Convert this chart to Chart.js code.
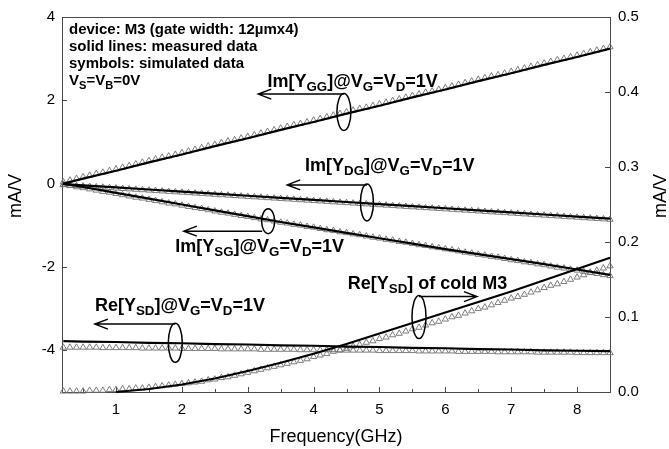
<!DOCTYPE html>
<html>
<head>
<meta charset="utf-8">
<script src="https://cdn.jsdelivr.net/npm/chart.js@4.4.1/dist/chart.umd.min.js"></script>
<style>
html, body { margin: 0; padding: 0; background: #fff; }
</style>
</head>
<body>
<canvas id="chart" width="669" height="449"></canvas>
<script>
// measured data (solid lines), GHz / mA/V
var freqMeas = [0.2, 0.5, 1.0, 1.5, 2.0, 2.5, 3.0, 3.5, 4.0, 4.5, 5.0, 5.5, 6.0, 6.5, 7.0, 7.5, 8.0, 8.5];
var ggMeas = [0.00, 0.12, 0.31, 0.51, 0.70, 0.90, 1.09, 1.29, 1.48, 1.68, 1.87, 2.07, 2.26, 2.46, 2.65, 2.85, 3.04, 3.24];
var dgMeas = [-0.01, -0.04, -0.09, -0.14, -0.19, -0.24, -0.29, -0.34, -0.39, -0.44, -0.49, -0.54, -0.59, -0.64, -0.69, -0.74, -0.79, -0.84];
var sgMeas = [0.00, -0.08, -0.22, -0.36, -0.50, -0.64, -0.78, -0.92, -1.05, -1.18, -1.31, -1.44, -1.57, -1.69, -1.81, -1.93, -2.06, -2.19];
var sdMeas = [-3.78, -3.79, -3.80, -3.82, -3.83, -3.85, -3.86, -3.88, -3.89, -3.91, -3.92, -3.94, -3.95, -3.97, -3.98, -4.00, -4.01, -4.02];
var freqCold = [1.0, 1.5, 2.0, 2.5, 3.0, 3.5, 4.0, 4.5, 5.0, 5.5, 6.0, 6.5, 7.0, 7.5, 8.0, 8.5];
var coldMeas = [0.000, 0.004, 0.010, 0.018, 0.028, 0.039, 0.051, 0.064, 0.078, 0.092, 0.106, 0.120, 0.134, 0.149, 0.164, 0.179];

// simulated data (symbols)
var freqSim = [
    0.2, 0.3, 0.4, 0.5, 0.6, 0.7, 0.8, 0.9, 1.0, 1.1,
    1.2, 1.3, 1.4, 1.5, 1.6, 1.7, 1.8, 1.9, 2.0, 2.1,
    2.2, 2.3, 2.4, 2.5, 2.6, 2.7, 2.8, 2.9, 3.0, 3.1,
    3.2, 3.3, 3.4, 3.5, 3.6, 3.7, 3.8, 3.9, 4.0, 4.1,
    4.2, 4.3, 4.4, 4.5, 4.6, 4.7, 4.8, 4.9, 5.0, 5.1,
    5.2, 5.3, 5.4, 5.5, 5.6, 5.7, 5.8, 5.9, 6.0, 6.1,
    6.2, 6.3, 6.4, 6.5, 6.6, 6.7, 6.8, 6.9, 7.0, 7.1,
    7.2, 7.3, 7.4, 7.5, 7.6, 7.7, 7.8, 7.9, 8.0, 8.1,
    8.2, 8.3, 8.4, 8.5
];
var ggSim = [
    0.04, 0.08, 0.12, 0.16, 0.20, 0.24, 0.27, 0.31, 0.35, 0.39,
    0.43, 0.47, 0.51, 0.55, 0.59, 0.63, 0.66, 0.70, 0.74, 0.78,
    0.82, 0.86, 0.90, 0.94, 0.98, 1.02, 1.05, 1.09, 1.13, 1.17,
    1.21, 1.25, 1.29, 1.33, 1.37, 1.41, 1.44, 1.48, 1.52, 1.56,
    1.60, 1.64, 1.68, 1.72, 1.76, 1.80, 1.83, 1.87, 1.91, 1.95,
    1.99, 2.03, 2.07, 2.11, 2.15, 2.19, 2.22, 2.26, 2.30, 2.34,
    2.38, 2.42, 2.46, 2.50, 2.54, 2.58, 2.61, 2.65, 2.69, 2.73,
    2.77, 2.81, 2.85, 2.89, 2.93, 2.97, 3.00, 3.04, 3.08, 3.12,
    3.16, 3.20, 3.24, 3.28
];
var dgSim = [
    -0.03, -0.04, -0.05, -0.06, -0.07, -0.08, -0.09, -0.10, -0.11, -0.12,
    -0.13, -0.14, -0.15, -0.16, -0.17, -0.18, -0.19, -0.20, -0.21, -0.22,
    -0.23, -0.24, -0.25, -0.26, -0.27, -0.28, -0.29, -0.30, -0.31, -0.32,
    -0.33, -0.34, -0.35, -0.36, -0.37, -0.38, -0.39, -0.40, -0.41, -0.42,
    -0.43, -0.44, -0.45, -0.46, -0.47, -0.48, -0.49, -0.50, -0.51, -0.52,
    -0.53, -0.54, -0.55, -0.56, -0.57, -0.58, -0.59, -0.60, -0.61, -0.62,
    -0.63, -0.64, -0.65, -0.66, -0.67, -0.68, -0.69, -0.70, -0.71, -0.72,
    -0.73, -0.74, -0.75, -0.76, -0.77, -0.78, -0.79, -0.80, -0.81, -0.82,
    -0.83, -0.84, -0.85, -0.86
];
var sgSim = [
    -0.02, -0.05, -0.08, -0.10, -0.13, -0.16, -0.19, -0.21, -0.24, -0.27,
    -0.30, -0.33, -0.35, -0.38, -0.41, -0.44, -0.47, -0.49, -0.52, -0.55,
    -0.58, -0.60, -0.63, -0.66, -0.69, -0.71, -0.74, -0.77, -0.79, -0.82,
    -0.85, -0.87, -0.90, -0.93, -0.95, -0.98, -1.00, -1.03, -1.05, -1.08,
    -1.11, -1.13, -1.16, -1.18, -1.21, -1.23, -1.26, -1.29, -1.31, -1.34,
    -1.36, -1.39, -1.41, -1.44, -1.47, -1.49, -1.52, -1.54, -1.57, -1.59,
    -1.62, -1.65, -1.67, -1.70, -1.72, -1.75, -1.77, -1.80, -1.83, -1.85,
    -1.88, -1.90, -1.93, -1.95, -1.98, -2.01, -2.03, -2.06, -2.08, -2.11,
    -2.13, -2.16, -2.19, -2.21
];
var sdSim = [
    -3.93, -3.93, -3.93, -3.93, -3.93, -3.93, -3.94, -3.94, -3.94, -3.94,
    -3.94, -3.94, -3.95, -3.95, -3.95, -3.95, -3.95, -3.95, -3.96, -3.96,
    -3.96, -3.96, -3.96, -3.96, -3.97, -3.97, -3.97, -3.97, -3.97, -3.97,
    -3.98, -3.98, -3.98, -3.98, -3.98, -3.98, -3.99, -3.99, -3.99, -3.99,
    -3.99, -3.99, -4.00, -4.00, -4.00, -4.00, -4.00, -4.00, -4.01, -4.01,
    -4.01, -4.01, -4.01, -4.01, -4.02, -4.02, -4.02, -4.02, -4.02, -4.02,
    -4.03, -4.03, -4.03, -4.03, -4.03, -4.03, -4.04, -4.04, -4.04, -4.04,
    -4.04, -4.04, -4.05, -4.05, -4.05, -4.05, -4.05, -4.05, -4.06, -4.06,
    -4.06, -4.06, -4.06, -4.06
];
var coldSim = [
    0.001, 0.001, 0.001, 0.001, 0.002, 0.002, 0.002, 0.003, 0.003, 0.004,
    0.004, 0.005, 0.005, 0.006, 0.007, 0.008, 0.009, 0.010, 0.011, 0.012,
    0.013, 0.014, 0.016, 0.017, 0.019, 0.020, 0.022, 0.024, 0.026, 0.028,
    0.030, 0.032, 0.034, 0.036, 0.038, 0.040, 0.042, 0.044, 0.047, 0.049,
    0.051, 0.054, 0.056, 0.058, 0.061, 0.063, 0.066, 0.068, 0.071, 0.073,
    0.076, 0.078, 0.081, 0.084, 0.086, 0.089, 0.092, 0.094, 0.097, 0.100,
    0.102, 0.105, 0.108, 0.111, 0.113, 0.116, 0.119, 0.122, 0.125, 0.127,
    0.130, 0.133, 0.136, 0.139, 0.142, 0.144, 0.147, 0.150, 0.153, 0.156,
    0.159, 0.162, 0.165, 0.168
];

// axis ticks
var xTicks = [1, 2, 3, 4, 5, 6, 7, 8];
var xMinorTicks = [0.5, 1.5, 2.5, 3.5, 4.5, 5.5, 6.5, 7.5];
var yTicks = [-4, -2, 0, 2, 4];
var y2Ticks = [0.0, 0.1, 0.2, 0.3, 0.4, 0.5];

var FONT = '"Liberation Sans", Arial, Helvetica, sans-serif';

// text notes, _{..} marks a subscript
var infoLines = [
    'device: M3 (gate width: 12\u00b5mx4)',
    'solid lines: measured data',
    'symbols: simulated data',
    'V_{S}=V_{B}=0V'
];

// labels: text pos, arrow (y, from x to x), ellipse centre + size in px
var notes = [
    { text: 'Im[Y_{GG}]@V_{G}=V_{D}=1V', tx: 3.30, ty: 2.44, ay: 2.15, ax0: 4.46, ax1: 3.16, ex: 4.46, ey: 1.72, ew: 14, eh: 37 },
    { text: 'Im[Y_{DG}]@V_{G}=V_{D}=1V', tx: 3.87, ty: 0.42, ay: -0.03, ax0: 4.81, ax1: 3.60, ex: 4.81, ey: -0.45, ew: 13, eh: 37 },
    { text: 'Im[Y_{SG}]@V_{G}=V_{D}=1V', tx: 1.90, ty: -1.52, ay: -1.14, ax0: 3.22, ax1: 2.03, ex: 3.31, ey: -0.90, ew: 13, eh: 25 },
    { text: 'Re[Y_{SD}]@V_{G}=V_{D}=1V', tx: 0.68, ty: -2.94, ay: -3.37, ax0: 1.90, ax1: 0.68, ex: 1.90, ey: -3.82, ew: 14, eh: 39 },
    { text: 'Re[Y_{SD}] of cold M3', tx: 4.52, ty: -2.40, ay: -2.71, ax0: 5.60, ax1: 6.48, ex: 5.60, ey: -3.20, ew: 14, eh: 43 }
];

function toPoints(xs, ys) {
    return xs.map(function(x, i) { return { x: x, y: ys[i] }; });
}

function measSet(xs, ys, axis) {
    return {
        data: toPoints(xs, ys), yAxisID: axis, showLine: true,
        borderColor: '#000', borderWidth: 2.2, pointRadius: 0,
        order: 0, clip: false
    };
}

function simSet(xs, ys, axis) {
    return {
        data: toPoints(xs, ys), yAxisID: axis, showLine: false,
        pointStyle: 'triangle', pointRadius: 3.6, borderWidth: 0.9,
        borderColor: '#6e6e6e', backgroundColor: 'rgba(255,255,255,0)',
        order: 1, clip: false
    };
}

function drawRich(ctx, str, x, y, size) {
    var parts = str.split(/_\{([^}]*)\}/);
    var cx = x;
    parts.forEach(function(p, i) {
        if (!p) return;
        var sub = i % 2 === 1;
        var fs = sub ? size * 0.74 : size;
        ctx.font = 'bold ' + fs + 'px ' + FONT;
        ctx.fillText(p, cx, sub ? y + size * 0.3 : y);
        cx += ctx.measureText(p).width;
    });
}

var extras = {
    id: 'extras',
    beforeDatasetsDraw: function(chart) {
        var ctx = chart.ctx, ca = chart.chartArea;
        var sx = chart.scales.x, sy = chart.scales.y, sy2 = chart.scales.y2;
        ctx.save();
        ctx.strokeStyle = '#4a4a4a';
        ctx.lineWidth = 1;
        ctx.strokeRect(Math.round(ca.left) + 0.5, Math.round(ca.top) + 0.5,
            Math.round(ca.right - ca.left), Math.round(ca.bottom - ca.top));
        ctx.beginPath();
        xTicks.forEach(function(v) {
            var p = Math.round(sx.getPixelForValue(v)) + 0.5;
            ctx.moveTo(p, ca.bottom); ctx.lineTo(p, ca.bottom - 5);
        });
        xMinorTicks.forEach(function(v) {
            var p = Math.round(sx.getPixelForValue(v)) + 0.5;
            ctx.moveTo(p, ca.bottom); ctx.lineTo(p, ca.bottom - 3);
        });
        yTicks.forEach(function(v) {
            var p = Math.round(sy.getPixelForValue(v)) + 0.5;
            ctx.moveTo(ca.left, p); ctx.lineTo(ca.left + 5, p);
        });
        y2Ticks.forEach(function(v) {
            var p = Math.round(sy2.getPixelForValue(v)) + 0.5;
            ctx.moveTo(ca.right, p); ctx.lineTo(ca.right - 5, p);
        });
        ctx.stroke();
        ctx.restore();
    },
    afterDatasetsDraw: function(chart) {
        var ctx = chart.ctx, ca = chart.chartArea;
        var sx = chart.scales.x, sy = chart.scales.y;
        ctx.save();
        ctx.fillStyle = '#000';
        ctx.strokeStyle = '#000';

        // axis titles
        ctx.font = '18px ' + FONT;
        ctx.textAlign = 'center';
        ctx.textBaseline = 'middle';
        ctx.fillText('Frequency(GHz)', (ca.left + ca.right) / 2, 437);
        ctx.save();
        ctx.translate(16, 196);
        ctx.rotate(-Math.PI / 2);
        ctx.fillText('mA/V', 0, 0);
        ctx.restore();
        ctx.save();
        ctx.translate(661, 196);
        ctx.rotate(-Math.PI / 2);
        ctx.fillText('mA/V', 0, 0);
        ctx.restore();

        // info block
        ctx.textAlign = 'left';
        infoLines.forEach(function(line, i) {
            drawRich(ctx, line, ca.left + 7, ca.top + 13 + i * 17, 15);
        });

        // curve labels, arrows, ellipses
        notes.forEach(function(n) {
            drawRich(ctx, n.text, sx.getPixelForValue(n.tx), sy.getPixelForValue(n.ty), 18);
            var ay = sy.getPixelForValue(n.ay);
            var x0 = sx.getPixelForValue(n.ax0), x1 = sx.getPixelForValue(n.ax1);
            var dir = x1 > x0 ? -1 : 1;
            ctx.lineWidth = 1.5;
            ctx.beginPath();
            ctx.moveTo(x0, ay); ctx.lineTo(x1, ay);
            ctx.moveTo(x1 + dir * 13, ay - 5); ctx.lineTo(x1, ay); ctx.lineTo(x1 + dir * 13, ay + 5);
            ctx.stroke();
            ctx.beginPath();
            ctx.ellipse(sx.getPixelForValue(n.ex), sy.getPixelForValue(n.ey), n.ew / 2, n.eh / 2, 0, 0, Math.PI * 2);
            ctx.stroke();
        });
        ctx.restore();
    }
};

var tickFont = { family: FONT, size: 15 };

new Chart(document.getElementById('chart'), {
    type: 'scatter',
    data: {
        datasets: [
            measSet(freqMeas, ggMeas, 'y'),
            measSet(freqMeas, dgMeas, 'y'),
            measSet(freqMeas, sgMeas, 'y'),
            measSet(freqMeas, sdMeas, 'y'),
            measSet(freqCold, coldMeas, 'y2'),
            simSet(freqSim, ggSim, 'y'),
            simSet(freqSim, dgSim, 'y'),
            simSet(freqSim, sgSim, 'y'),
            simSet(freqSim, sdSim, 'y'),
            simSet(freqSim, coldSim, 'y2')
        ]
    },
    options: {
        responsive: false,
        animation: false,
        devicePixelRatio: 1,
        layout: { padding: { top: 12, left: 0, right: 0, bottom: 0 } },
        plugins: { legend: { display: false }, tooltip: { enabled: false } },
        scales: {
            x: {
                type: 'linear', min: 0.18, max: 8.5,
                grid: { display: false, drawTicks: false }, border: { display: false },
                ticks: { font: tickFont, color: '#000', padding: 9, maxRotation: 0 },
                afterBuildTicks: function(s) { s.ticks = xTicks.map(function(v) { return { value: v }; }); },
                afterFit: function(s) { s.height = 57; }
            },
            y: {
                position: 'left', min: -5, max: 4,
                grid: { display: false, drawTicks: false }, border: { display: false },
                ticks: { font: tickFont, color: '#000', padding: 7 },
                afterBuildTicks: function(s) { s.ticks = yTicks.map(function(v) { return { value: v }; }); },
                afterFit: function(s) { s.width = 62; }
            },
            y2: {
                position: 'right', min: 0, max: 0.5,
                grid: { display: false, drawTicks: false }, border: { display: false },
                ticks: { font: tickFont, color: '#000', padding: 8,
                    callback: function(v) { return v.toFixed(1); } },
                afterBuildTicks: function(s) { s.ticks = y2Ticks.map(function(v) { return { value: v }; }); },
                afterFit: function(s) { s.width = 59; }
            }
        }
    },
    plugins: [extras]
});
</script>
</body>
</html>
